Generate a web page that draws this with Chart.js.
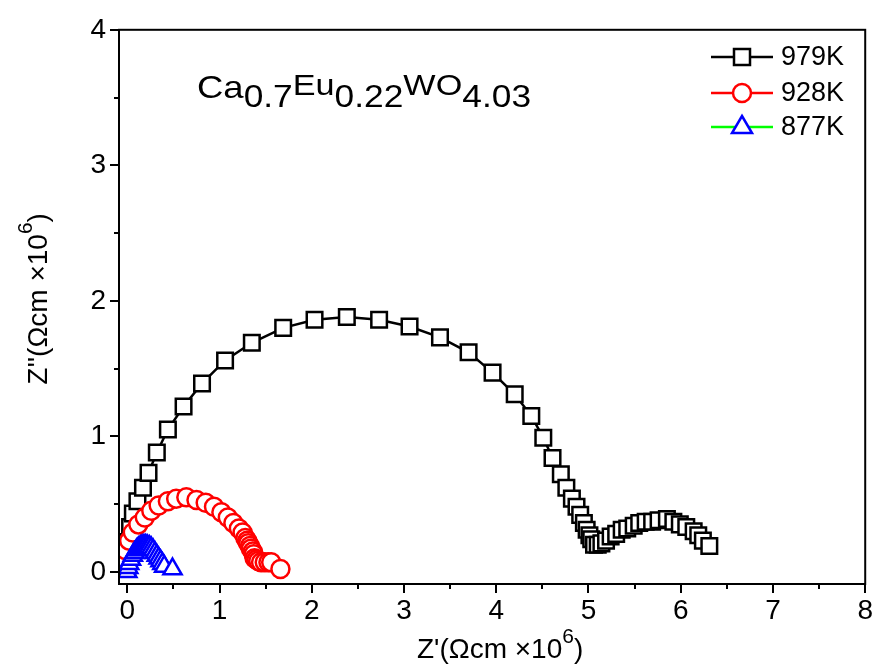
<!DOCTYPE html>
<html>
<head>
<meta charset="utf-8">
<script src="https://cdn.jsdelivr.net/npm/chart.js@4"></script>
<style>
  html, body { margin:0; padding:0; background:#fff; }
</style>
</head>
<body>
<canvas id="chart" width="883" height="666"></canvas>
<script>
// impedance data, Z' and Z'' in units of 1e6 Ohm cm
const seriesNames = ['979K', '928K', '877K'];

const re979 = [0.00, 0.00, 0.01, 0.03, 0.06, 0.11, 0.17, 0.23, 0.32, 0.44, 0.61, 0.81, 1.06, 1.35, 1.69, 2.03, 2.38, 2.73, 3.06, 3.39, 3.70, 3.96, 4.20, 4.38, 4.51, 4.61, 4.70, 4.76, 4.82, 4.87, 4.91, 4.95, 4.98, 5.01, 5.03, 5.06, 5.10, 5.14, 5.19, 5.24, 5.30, 5.36, 5.42, 5.49, 5.55, 5.62, 5.69, 5.76, 5.85, 5.92, 5.99, 6.06, 6.14, 6.19, 6.24, 6.31];
const im979 = [0.03, 0.12, 0.22, 0.33, 0.43, 0.52, 0.62, 0.73, 0.88, 1.05, 1.22, 1.39, 1.56, 1.69, 1.80, 1.86, 1.88, 1.86, 1.81, 1.73, 1.62, 1.47, 1.31, 1.15, 0.99, 0.84, 0.72, 0.62, 0.54, 0.48, 0.42, 0.36, 0.31, 0.27, 0.24, 0.20, 0.20, 0.21, 0.23, 0.26, 0.28, 0.31, 0.32, 0.34, 0.36, 0.37, 0.37, 0.38, 0.39, 0.37, 0.35, 0.33, 0.30, 0.27, 0.23, 0.19];

const re928 = [-0.06, -0.04, -0.02, 0.02, 0.06, 0.12, 0.19, 0.26, 0.34, 0.44, 0.53, 0.64, 0.75, 0.85, 0.94, 1.02, 1.09, 1.15, 1.21, 1.25, 1.28, 1.30, 1.31, 1.33, 1.34, 1.36, 1.37, 1.38, 1.40, 1.42, 1.45, 1.49, 1.53, 1.56, 1.66];
const im928 = [0.03, 0.09, 0.16, 0.23, 0.29, 0.35, 0.40, 0.45, 0.49, 0.52, 0.54, 0.55, 0.53, 0.51, 0.48, 0.44, 0.40, 0.36, 0.32, 0.29, 0.25, 0.23, 0.21, 0.19, 0.17, 0.15, 0.13, 0.10, 0.09, 0.08, 0.07, 0.07, 0.07, 0.07, 0.02];

const re877 = [0.00, 0.01, 0.02, 0.04, 0.06, 0.08, 0.10, 0.12, 0.14, 0.16, 0.18, 0.20, 0.22, 0.24, 0.26, 0.28, 0.30, 0.32, 0.34, 0.36, 0.38, 0.40, 0.49];
const im877 = [0.00, 0.03, 0.06, 0.09, 0.12, 0.14, 0.16, 0.175, 0.185, 0.19, 0.195, 0.195, 0.19, 0.185, 0.175, 0.16, 0.14, 0.12, 0.10, 0.08, 0.06, 0.04, 0.02];

const xTicks = [0, 1, 2, 3, 4, 5, 6, 7, 8];
const yTicks = [0, 1, 2, 3, 4];

const FONT = '"Liberation Sans", Arial, Helvetica, sans-serif';
const pts = (xs, ys) => xs.map((x, i) => ({ x, y: ys[i] }));

const looks = [
  { line:'#000000', mark:'#000000', shape:'rect',     r:11 },
  { line:'#ff0000', mark:'#ff0000', shape:'circle',   r:9 },
  { line:'#00ff00', mark:'#0000ff', shape:'triangle', r:10.5 }
];

// rich text: pieces of {t, size, dy}
function richWidth(ctx, pieces){
  let w = 0;
  pieces.forEach(p => { ctx.font = p.size + 'px ' + FONT; w += ctx.measureText(p.t).width; });
  return w;
}
function drawRich(ctx, pieces, x, y){
  ctx.textBaseline = 'alphabetic';
  ctx.textAlign = 'left';
  pieces.forEach(p => {
    ctx.font = p.size + 'px ' + FONT;
    ctx.fillText(p.t, x, y + (p.dy || 0));
    x += ctx.measureText(p.t).width;
  });
}

const decor = {
  id: 'decor',
  afterDatasetsDraw(chart){
    const {ctx, chartArea:a, scales:{x, y}} = chart;
    ctx.save();
    ctx.strokeStyle = '#000';
    ctx.lineWidth = 2;
    ctx.strokeRect(a.left, a.top, a.right - a.left, a.bottom - a.top);
    ctx.beginPath();
    for (let v = 0; v <= 8; v += 0.5) {
      const px = Math.round(x.getPixelForValue(v));
      const len = Number.isInteger(v) ? 9 : 5;
      ctx.moveTo(px, a.bottom); ctx.lineTo(px, a.bottom + len);
    }
    for (let v = 0; v <= 4; v += 0.5) {
      const py = Math.round(y.getPixelForValue(v));
      const len = Number.isInteger(v) ? 9 : 5;
      ctx.moveTo(a.left, py); ctx.lineTo(a.left - len, py);
    }
    ctx.stroke();
    ctx.restore();
  },
  afterDraw(chart){
    const {ctx, chartArea:a} = chart;
    ctx.save();
    ctx.fillStyle = '#000';

    // compound label, slightly stretched like the original
    ctx.save();
    ctx.translate(197, 98);
    ctx.scale(1.14, 1);
    drawRich(ctx, [
      {t:'Ca', size:32},
      {t:'0.7', size:31, dy:9},
      {t:'Eu', size:30, dy:-3},
      {t:'0.22', size:31, dy:9},
      {t:'WO', size:30, dy:-3},
      {t:'4.03', size:31, dy:9}
    ], 0, 0);
    ctx.restore();

    // axis titles
    const xt = [{t:"Z'(\u03A9cm \u00D710", size:28}, {t:'6', size:21, dy:-15}, {t:')', size:28}];
    const cx = (a.left + a.right) / 2 + 8;
    drawRich(ctx, xt, cx - richWidth(ctx, xt) / 2, 658);

    const yt = [{t:"Z''(\u03A9cm \u00D710", size:28}, {t:'6', size:21, dy:-15}, {t:')', size:28}];
    ctx.save();
    ctx.translate(47, (a.top + a.bottom) / 2 - 8);
    ctx.rotate(-Math.PI / 2);
    drawRich(ctx, yt, -richWidth(ctx, yt) / 2, 0);
    ctx.restore();

    // legend
    const rows = [57, 93, 127];
    seriesNames.forEach((name, i) => {
      const lk = looks[i], yy = rows[i];
      ctx.strokeStyle = lk.line; ctx.lineWidth = 2.5;
      ctx.beginPath(); ctx.moveTo(711, yy); ctx.lineTo(773, yy); ctx.stroke();
      ctx.fillStyle = '#fff'; ctx.strokeStyle = lk.mark; ctx.lineWidth = 2.5;
      ctx.beginPath();
      if (lk.shape === 'rect') ctx.rect(742 - 8, yy - 8, 16, 16);
      else if (lk.shape === 'circle') ctx.arc(742, yy, 9, 0, Math.PI * 2);
      else { ctx.moveTo(742, yy - 11); ctx.lineTo(752, yy + 6); ctx.lineTo(732, yy + 6); ctx.closePath(); }
      ctx.fill(); ctx.stroke();
      ctx.fillStyle = '#000';
      ctx.font = '27px ' + FONT;
      ctx.textBaseline = 'middle';
      ctx.fillText(name, 781, yy + 1);
    });
    ctx.restore();
  }
};

const reals = [re979, re928, re877];
const imags = [im979, im928, im877];

new Chart(document.getElementById('chart'), {
  type: 'scatter',
  data: {
    datasets: seriesNames.map((name, i) => ({
      label: name,
      data: pts(reals[i], imags[i]),
      showLine: true,
      borderColor: looks[i].line,
      borderWidth: 2.5,
      pointStyle: looks[i].shape,
      pointRadius: looks[i].r,
      pointBorderColor: looks[i].mark,
      pointBackgroundColor: '#ffffff',
      pointBorderWidth: 2.5,
      order: 3 - i
    }))
  },
  options: {
    responsive: false,
    animation: false,
    devicePixelRatio: 1,
    layout: { padding: { top: 25, right: 9, left: 0, bottom: 0 } },
    plugins: { legend: { display: false }, tooltip: { enabled: false } },
    scales: {
      x: {
        type: 'linear', min: -0.09, max: 8,
        afterBuildTicks: s => { s.ticks = xTicks.map(v => ({ value: v })); },
        afterFit: s => { s.height = 82; },
        grid: { display: false, drawTicks: false },
        border: { display: false },
        ticks: { color: '#000', padding: 10, font: { family: FONT, size: 28 }, maxRotation: 0 }
      },
      y: {
        type: 'linear', min: -0.09, max: 4,
        afterBuildTicks: s => { s.ticks = yTicks.map(v => ({ value: v })); },
        afterFit: s => { s.width = 119; },
        grid: { display: false, drawTicks: false },
        border: { display: false },
        ticks: { color: '#000', padding: 13, font: { family: FONT, size: 28 } }
      }
    }
  },
  plugins: [decor]
});
</script>
</body>
</html>
